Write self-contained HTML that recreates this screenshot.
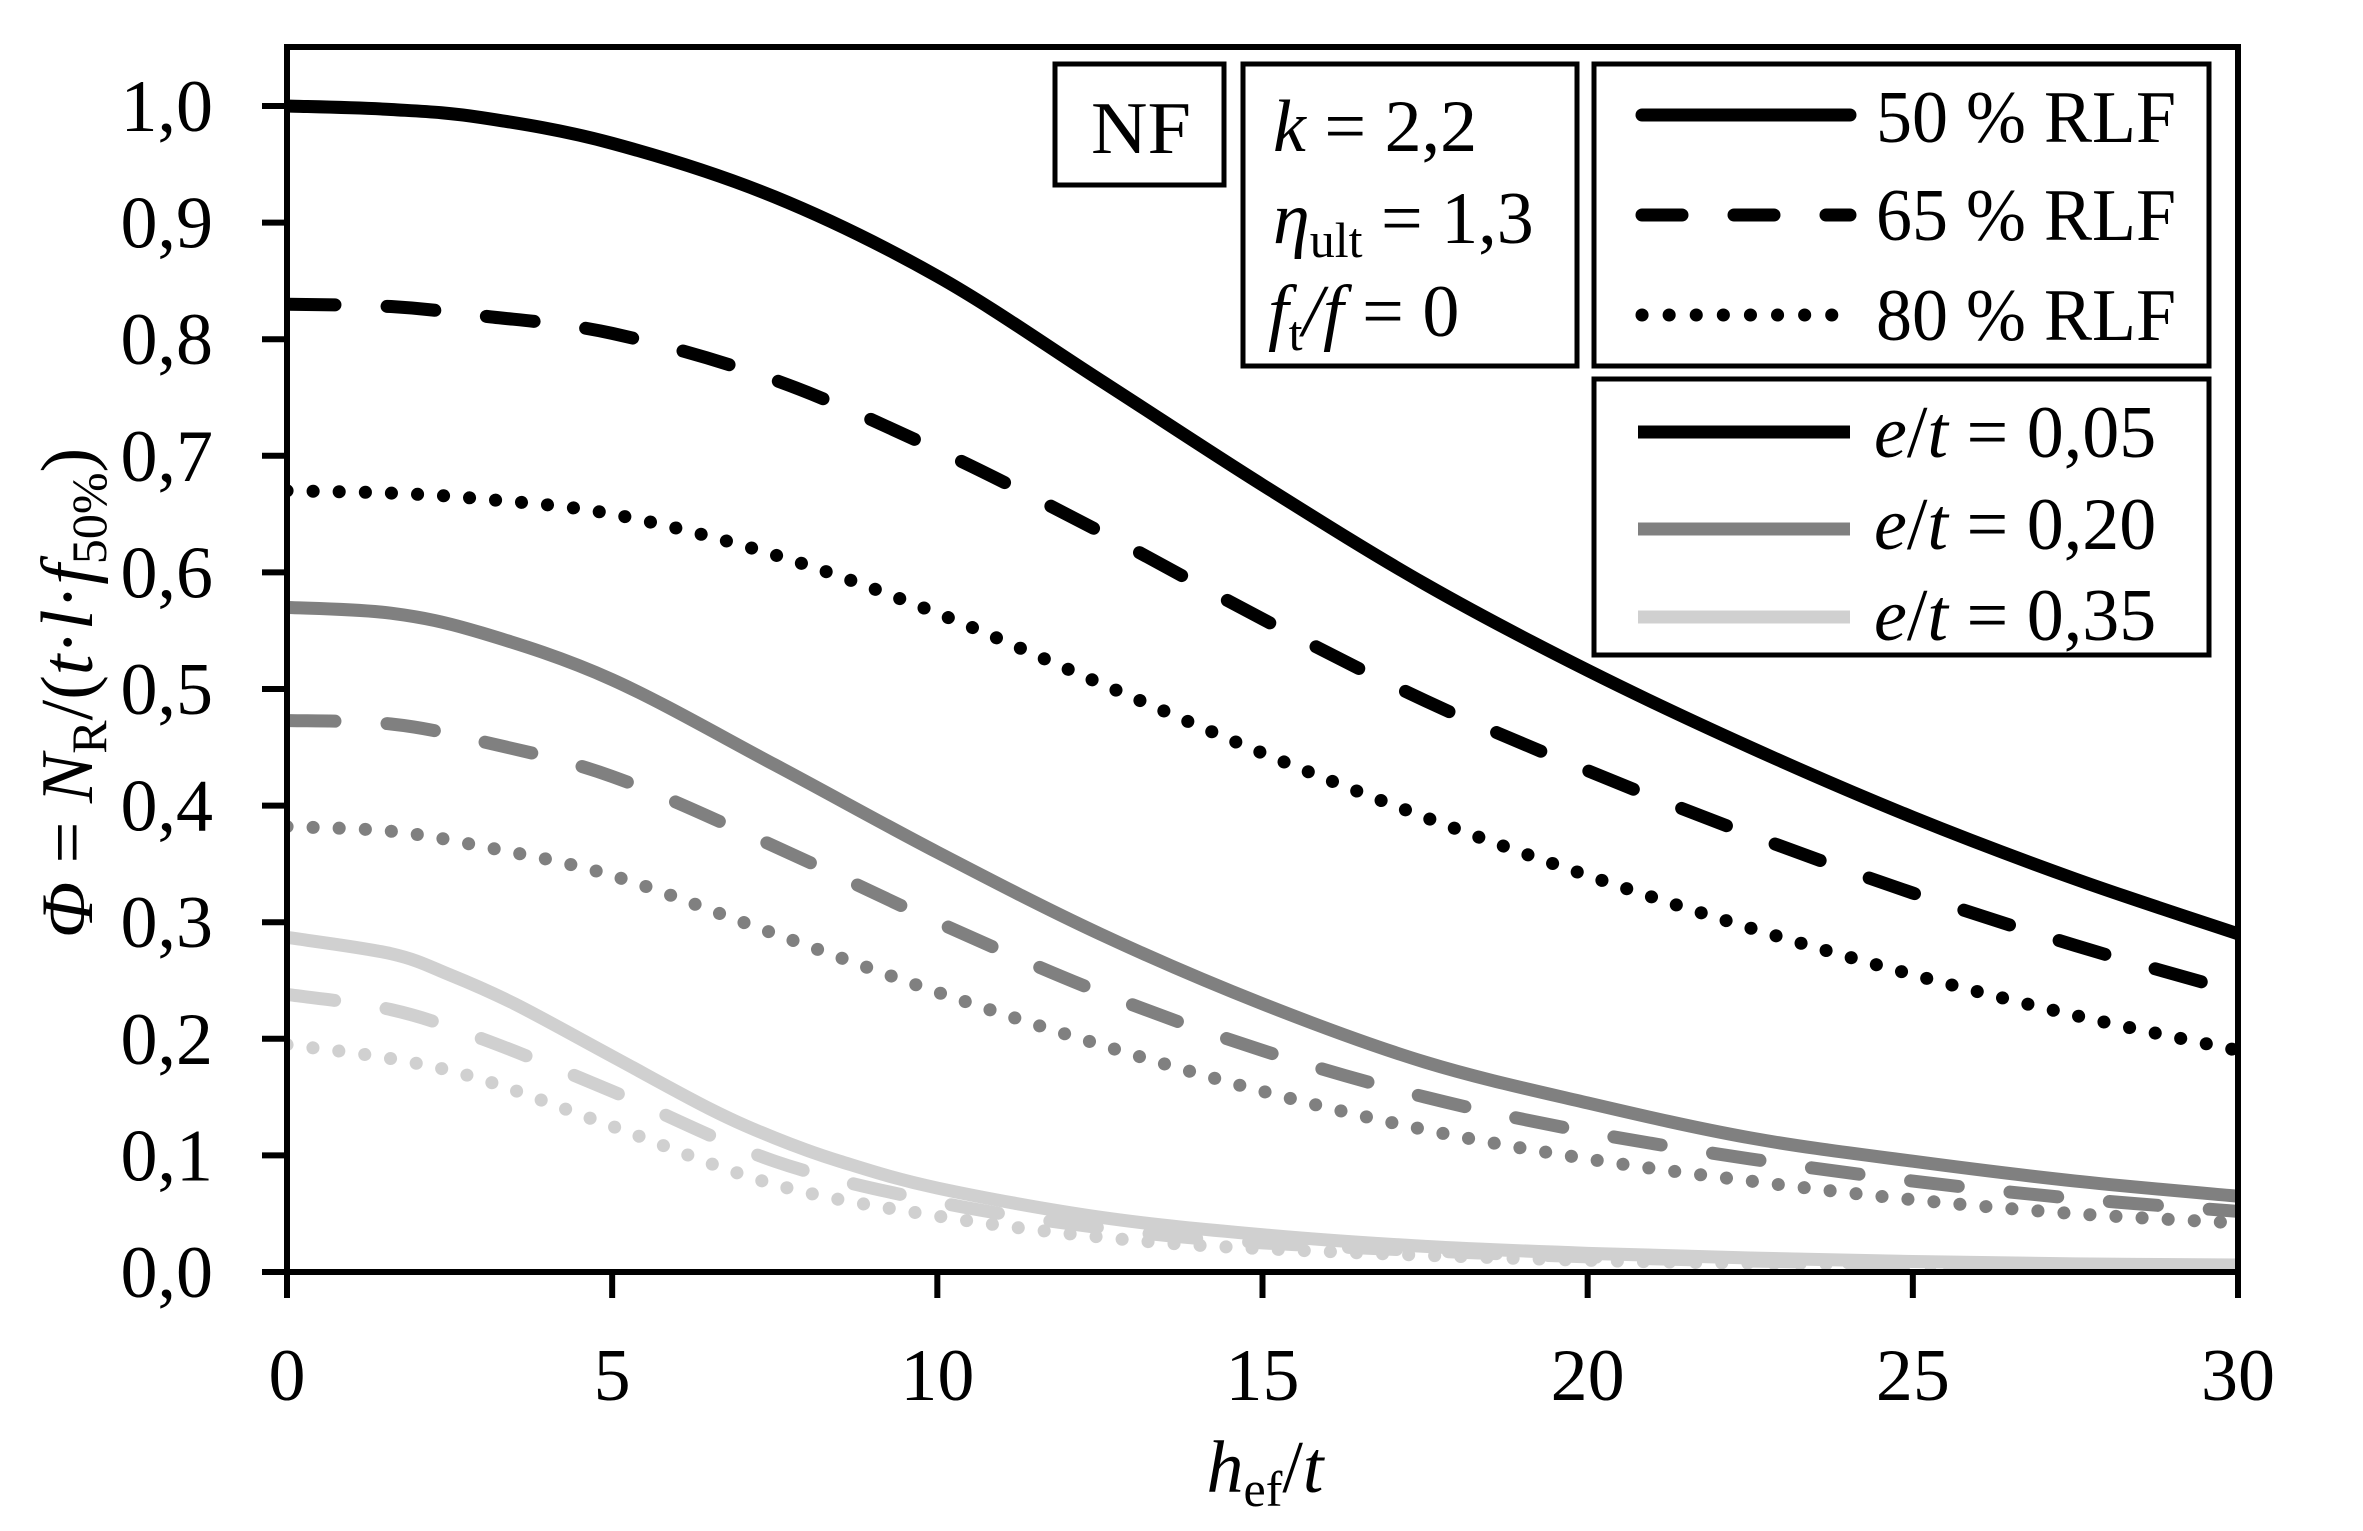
<!DOCTYPE html>
<html><head><meta charset="utf-8"><style>
html,body{margin:0;padding:0;background:#fff}
svg{display:block}
text{font-family:"Liberation Serif",serif;fill:#000}
</style></head><body>
<svg id="s" width="2363" height="1531" viewBox="0 0 2363 1531" xmlns="http://www.w3.org/2000/svg">
<defs><clipPath id="c"><rect x="287" y="47" width="1951" height="1225"/></clipPath></defs>
<g id="curves" clip-path="url(#c)"></g>
<rect x="287" y="47" width="1951" height="1225" fill="none" stroke="#000" stroke-width="6"/>
<g id="ticks" stroke="#000" stroke-width="6"></g>
<g id="labels" font-size="74"></g>
<g fill="#fff" stroke="#000" stroke-width="5">
<rect x="1055" y="64" width="169" height="121"/>
<rect x="1243" y="64" width="334" height="302"/>
<rect x="1594" y="64" width="615" height="302"/>
<rect x="1594" y="379" width="615" height="276"/>
</g>
<text x="1091" y="153" font-size="74" textLength="100" lengthAdjust="spacingAndGlyphs">NF</text>
<text x="1273" y="151" font-size="74"><tspan font-style="italic">k</tspan> = 2,2</text>
<text x="1273" y="243" font-size="74"><tspan font-style="italic">η</tspan><tspan font-size="50" dy="14">ult</tspan><tspan dy="-14"> = 1,3</tspan></text>
<text x="1268" y="336" font-size="74"><tspan font-style="italic">f</tspan><tspan font-size="50" dy="14">t</tspan><tspan dy="-14" font-style="italic">/f</tspan> = 0</text>
<g stroke="#000" stroke-width="13" stroke-linecap="round" fill="none">
<line x1="1642" y1="115" x2="1850" y2="115"/>
<line x1="1642" y1="215" x2="1850" y2="215" stroke-dasharray="40 52"/>
<line x1="1642" y1="315" x2="1850" y2="315" stroke-dasharray="0.1 27"/>
</g>
<g stroke-width="13" fill="none">
<line x1="1638" y1="432" x2="1850" y2="432" stroke="#000"/>
<line x1="1638" y1="529" x2="1850" y2="529" stroke="#808080"/>
<line x1="1638" y1="617" x2="1850" y2="617" stroke="#d0d0d0"/>
</g>
<text x="1876" y="142" font-size="74" textLength="300" lengthAdjust="spacingAndGlyphs">50 % RLF</text>
<text x="1876" y="240" font-size="74" textLength="300" lengthAdjust="spacingAndGlyphs">65 % RLF</text>
<text x="1876" y="340" font-size="74" textLength="300" lengthAdjust="spacingAndGlyphs">80 % RLF</text>
<text x="1874" y="457" font-size="74"><tspan font-style="italic">e</tspan>/<tspan font-style="italic">t</tspan> = 0,05</text>
<text x="1874" y="549" font-size="74"><tspan font-style="italic">e</tspan>/<tspan font-style="italic">t</tspan> = 0,20</text>
<text x="1874" y="640" font-size="74"><tspan font-style="italic">e</tspan>/<tspan font-style="italic">t</tspan> = 0,35</text>
<text x="1265" y="1492" font-size="74" text-anchor="middle"><tspan font-style="italic">h</tspan><tspan font-size="50" dy="14">ef</tspan><tspan dy="-14">/</tspan><tspan font-style="italic">t</tspan></text>
<text transform="translate(92,693) rotate(-90)" font-size="74" text-anchor="middle"><tspan font-style="italic">Φ</tspan> = <tspan font-style="italic">N</tspan><tspan font-size="50" dy="14">R</tspan><tspan dy="-14">/(</tspan><tspan font-style="italic">t</tspan>·<tspan font-style="italic">l</tspan>·<tspan font-style="italic">f</tspan><tspan font-size="50" dy="14">50%</tspan><tspan dy="-14">)</tspan></text>
</svg>
<script>
var NS="http://www.w3.org/2000/svg";
function X(v){return 287+v*65.033;}
function Y(v){return 1272-v*1166;}
var ticks=document.getElementById("ticks"),labels=document.getElementById("labels");
function el(tag,at,par,txt){var e=document.createElementNS(NS,tag);for(var k in at)e.setAttribute(k,at[k]);if(txt!=null)e.textContent=txt;par.appendChild(e);return e;}
for(var i=0;i<=10;i++){var y=Y(i/10);el("line",{x1:262,y1:y,x2:287,y2:y},ticks);
el("text",{x:213,y:y+25,"text-anchor":"end"},labels,(i/10).toFixed(1).replace(".",","));}
for(var i=0;i<=6;i++){var x=X(i*5);el("line",{x1:x,y1:1272,x2:x,y2:1298},ticks);
el("text",{x:x,y:1400,"text-anchor":"middle"},labels,String(i*5));}
var S=[
["#000","",[[0,1],[1.6,.997],[3,.99],[5,.968],[7.5,.922],[10,.854],[12.5,.765],[15,.675],[17.5,.59],[20,.516],[22.5,.45],[25,.39],[27.5,.337],[30,.29]]],
["#000","d",[[0,.83],[1.6,.828],[3,.82],[5,.805],[7.5,.765],[10,.705],[12.5,.635],[15,.56],[17.5,.49],[20,.43],[22.5,.375],[25,.325],[27.5,.28],[30,.24]]],
["#000","o",[[0,.67],[1.6,.668],[3,.663],[5,.65],[7.5,.615],[10,.565],[12.5,.505],[15,.445],[17.5,.39],[20,.34],[22.5,.295],[25,.255],[27.5,.22],[30,.19]]],
["#808080","",[[0,.57],[1.6,.565],[3,.548],[5,.508],[7.5,.435],[10,.36],[12.5,.29],[15,.23],[17.5,.18],[20,.145],[22.5,.115],[25,.095],[27.5,.078],[30,.065]]],
["#808080","d",[[0,.473],[1.6,.47],[3,.455],[5,.425],[7.5,.365],[10,.3],[12.5,.24],[15,.19],[17.5,.15],[20,.12],[22.5,.097],[25,.078],[27.5,.063],[30,.052]]],
["#808080","o",[[0,.382],[1.6,.378],[3,.365],[5,.34],[7.5,.29],[10,.24],[12.5,.195],[15,.155],[17.5,.122],[20,.097],[22.5,.078],[25,.062],[27.5,.05],[30,.042]]],
["#d0d0d0","o",[[0,.195],[1.6,.183],[3,.165],[5,.125],[7.5,.075],[10,.048],[12.5,.03],[15,.02],[20,.01],[25,.006],[30,.003]]],
["#d0d0d0","d",[[0,.238],[1.6,.225],[3,.2],[5,.155],[7.5,.095],[10,.06],[12.5,.038],[15,.025],[20,.013],[25,.007],[30,.004]]],
["#d0d0d0","",[[0,.287],[1.6,.273],[2.5,.255],[3.5,.23],[5,.185],[6.5,.14],[7.5,.115],[8.5,.095],[10,.072],[12.5,.047],[15,.032],[17.5,.022],[20,.016],[22.5,.012],[25,.009],[27.5,.007],[30,.006]]]
];
var g=document.getElementById("curves");
S.forEach(function(s){
 var p=s[2].map(function(q){return [X(q[0]),Y(q[1])];});
 var d="M"+p[0][0]+","+p[0][1];
 for(var i=0;i<p.length-1;i++){
  var p0=p[i-1]||p[i],p1=p[i],p2=p[i+1],p3=p[i+2]||p2;
  var c1=[p1[0]+(p2[0]-p0[0])/6,p1[1]+(p2[1]-p0[1])/6],c2=[p2[0]-(p3[0]-p1[0])/6,p2[1]-(p3[1]-p1[1])/6];
  d+=" C"+c1[0]+","+c1[1]+" "+c2[0]+","+c2[1]+" "+p2[0]+","+p2[1];
 }
 var at={d:d,fill:"none",stroke:s[0],"stroke-width":13,"stroke-linecap":"round","stroke-linejoin":"round"};
 if(s[1]=="d")at["stroke-dasharray"]="48 52";
 if(s[1]=="o")at["stroke-dasharray"]="0.1 26";
 if(s[1]=="")at["stroke-linecap"]="butt";
 el("path",at,g);
});
</script>
</body></html>
